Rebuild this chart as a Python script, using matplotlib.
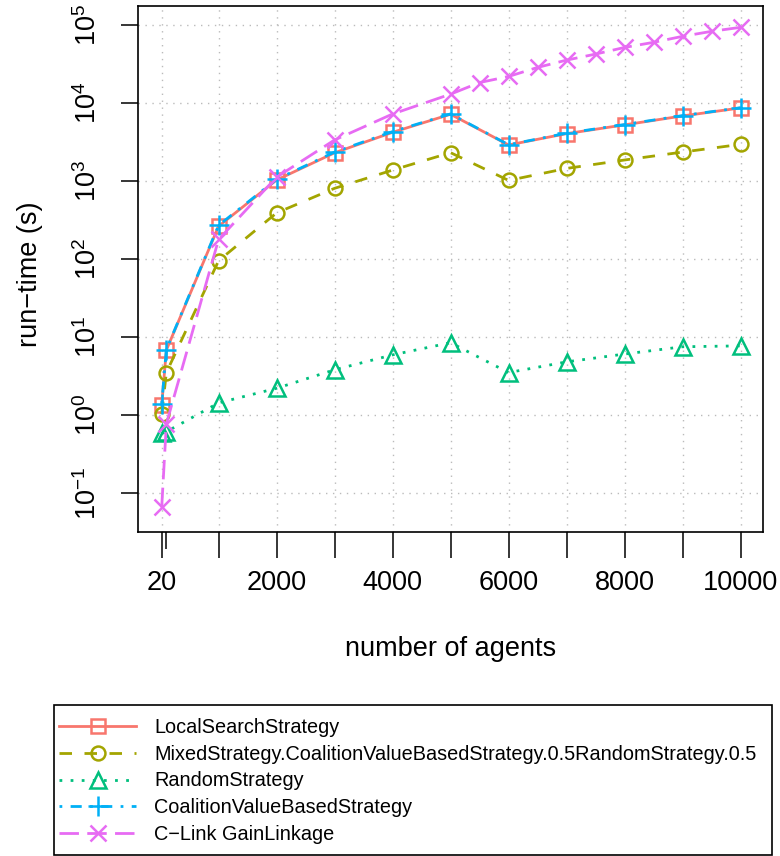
import matplotlib
matplotlib.use("Agg")
import matplotlib.pyplot as plt
from matplotlib.patches import Rectangle

plt.rcParams['font.family'] = ['Liberation Sans', 'DejaVu Sans']
plt.rcParams['mathtext.fontset'] = 'custom'
plt.rcParams['mathtext.rm'] = 'Liberation Sans'
plt.rcParams['mathtext.default'] = 'rm'

# run-times (s) per number of agents
agents = [20, 100, 1000, 2000, 3000, 4000, 5000, 6000, 7000, 8000, 9000, 10000]
local_search = [1.35, 6.8, 263, 1030, 2300, 4210, 7180, 2900, 4050, 5250, 6830, 8650]
mixed = [1.03, 3.5, 95, 390, 806, 1380, 2310, 1018, 1450, 1860, 2350, 2950]
random_strat = [0.58, 0.61, 1.43, 2.2, 3.8, 5.9, 8.45, 3.5, 4.8, 6.05, 7.5, 7.7]
coalition_value = [1.4, 6.9, 270, 1050, 2350, 4300, 7250, 2920, 4100, 5300, 6900, 8700]

clink_agents = [20, 100, 1000, 2000, 3000, 4000, 5000, 5500, 6000, 6500, 7000,
                7500, 8000, 8500, 9000, 9500, 10000]
clink = [0.066, 0.77, 178, 1120, 3360, 7230, 13000, 18300, 21900, 28600, 35500,
         42400, 51600, 60000, 71600, 83000, 93400]

labels = ["LocalSearchStrategy",
          "MixedStrategy.CoalitionValueBasedStrategy.0.5RandomStrategy.0.5",
          "RandomStrategy",
          "CoalitionValueBasedStrategy",
          "C\u2212Link GainLinkage"]

x_ticks = [20, 1000, 2000, 3000, 4000, 5000, 6000, 7000, 8000, 9000, 10000]
x_ticklabels = ["20", "", "2000", "", "4000", "", "6000", "", "8000", "", "10000"]
y_exps = [-1, 0, 1, 2, 3, 4, 5]

W, H = 780, 856
fig = plt.figure(figsize=(W / 100, H / 100), dpi=100)
ax = fig.add_axes([138 / W, 1 - 532 / H, 625 / W, 526 / H])
ax.set_yscale('log')

lw = 2.0
mew = 1.8
series = [
    (agents, local_search, '#F8766D', 's', 9.5, (None, None)),
    (agents, mixed, '#A3A500', 'o', 10, (4.5, 4.5)),
    (agents, random_strat, '#00BF7D', '^', 12, (1, 3)),
    (agents, coalition_value, '#00B0F6', '+', 15, (1, 3, 4, 3)),
    (clink_agents, clink, '#E76BF3', 'x', 12, (7, 3)),
]
handles = []
for xs, ys, col, mk, ms, dash in series:
    line, = ax.plot(xs, ys, color=col, lw=lw, marker=mk, ms=ms, mew=mew,
                    mfc='none', mec=col)
    if dash[0] is not None:
        line.set_dashes(dash)
    handles.append(line)

# grid
for e in y_exps:
    ax.axhline(10.0 ** e, color='#BBBBBB', lw=1.0, dashes=(1, 4), zorder=0)
for xv in x_ticks:
    ax.axvline(xv, color='#BBBBBB', lw=1.0, dashes=(1, 4), zorder=0)

ax.set_xlim(-389, 10387)
ax.set_ylim(10 ** -1.5, 10 ** 5.244)

ax.set_xticks(x_ticks)
ax.set_xticklabels(x_ticklabels, fontsize=19.5)
ax.set_xticks([100], minor=True)
ax.tick_params(axis='x', which='major', length=18.7, width=1.1, pad=9)
ax.tick_params(axis='x', which='minor', length=12, width=1.1)

ax.set_yticks([10.0 ** e for e in y_exps])
ax.set_yticklabels([r'$10^{%d}$' % e for e in y_exps], fontsize=19.5)
ax.yaxis.set_minor_locator(matplotlib.ticker.NullLocator())
ax.tick_params(axis='y', length=12.2, width=1.1, pad=14)
for t in ax.get_yticklabels():
    t.set_rotation(90)
    t.set_va('center')

for s in ax.spines.values():
    s.set_linewidth(1.2)

ax.set_xlabel("number of agents", fontsize=19.5)
ax.xaxis.set_label_coords(0.5, -0.198)
ax.set_ylabel("run\u2212time (s)", fontsize=19.5)
ax.yaxis.set_label_coords(-0.152, 0.49)

fig.legend(handles, labels, loc='upper left',
           bbox_to_anchor=(59 / W, 1 - 718 / H), frameon=False,
           borderpad=0, borderaxespad=0, handlelength=3.9,
           handletextpad=0.9, labelspacing=0.39, fontsize=14.3)
fig.patches.append(Rectangle((54 / W, 1 - 855 / H), (772 - 54) / W, 150 / H,
                             transform=fig.transFigure, fill=False,
                             ec='black', lw=1.2))

fig.savefig("out.png", dpi=100)
